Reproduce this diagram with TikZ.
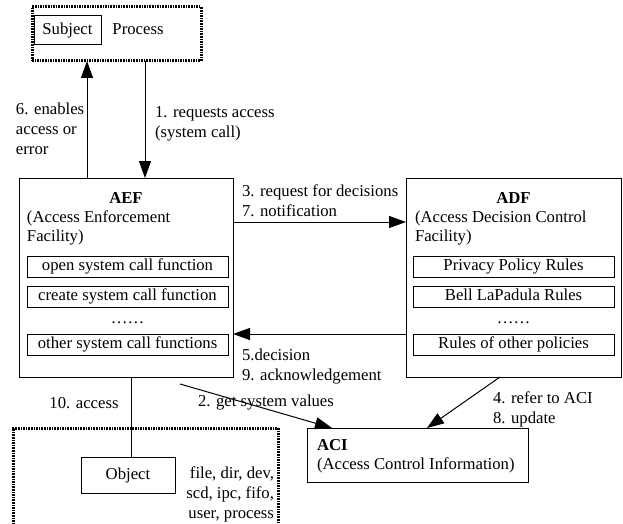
\documentclass[tikz,border=0pt]{standalone}
\usepackage{fontspec}
\setmainfont{Liberation Serif}
\usetikzlibrary{arrows.meta}
\begin{document}
\begin{tikzpicture}[x=1pt,y=-1pt,
  every node/.style={font=\fontsize{16.7}{20}\selectfont, inner sep=0pt, outer sep=0pt},
  box/.style={draw, line width=1pt, minimum width=#1, text height=11.5pt, text depth=3.5pt},
  dotbox/.style={draw, line width=3pt, dash pattern=on 1.6pt off 1pt},
  arr/.style={line width=1pt, -{Triangle[length=17pt,width=12pt]}},
  plain/.style={line width=1pt},
  lbl/.style={anchor=west, align=left}
]
\useasboundingbox (0,0) rectangle (623,524);
% Subject / Process
\node[dotbox, minimum width=169pt, minimum height=54pt] (proc) at (116.5,34) {};
\node[box=67pt, minimum height=29pt] (subj) at (67.5,30.5) {Subject};
\node[text height=11.5pt, text depth=3.5pt] (ptext) at (138,30.5) {Process};
% AEF
\node[box=214pt, minimum height=199pt] (aef) at (126,277.5) {};
\node[font=\fontsize{16.7}{20}\selectfont\bfseries] (aeft) at (126,198) {AEF};
\node[lbl] (aef1) at (27,218) {(Access Enforcement};
\node[lbl] (aef2) at (27,238) {Facility)};
\node[box=201pt, minimum height=21pt] (f1) at (127.5,266.5) {open system call function};
\node[box=201pt, minimum height=21pt] (f2) at (127.5,296.5) {create system call function};
\node[anchor=base] (fd) at (127.5,323) {……};
\node[box=201pt, minimum height=21pt] (f3) at (127.5,344.5) {other system call functions};
% ADF
\node[box=215pt, minimum height=199pt] (adf) at (513.5,277.5) {};
\node[font=\fontsize{16.7}{20}\selectfont\bfseries] (adft) at (513.5,198) {ADF};
\node[lbl] (adf1) at (415,218) {(Access Decision Control};
\node[lbl] (adf2) at (415,238) {Facility)};
\node[box=201pt, minimum height=21pt] (r1) at (513.5,266.5) {Privacy Policy Rules};
\node[box=201pt, minimum height=21pt] (r2) at (513.5,296.5) {Bell LaPadula Rules};
\node[anchor=base] (rd) at (513.5,323) {……};
\node[box=201pt, minimum height=21pt] (r3) at (513.5,344.5) {Rules of other policies};
% ACI
\node[box=221pt, minimum height=54pt] (aci) at (417.5,455) {};
\node[lbl, font=\fontsize{16.7}{20}\selectfont\bfseries] (acit) at (317,445) {ACI};
\node[lbl] (aci1) at (317,465) {(Access Control Information)};
% Object area
\draw[line width=3pt, dash pattern=on 1.6pt off 1pt] (13,540) -- (13,428) -- (278,428) -- (278,540);
\node[box=94pt, minimum height=36pt] (obj) at (128,475) {Object};
\node[anchor=east, align=right] (objt) at (274,494) {file, dir, dev,\\scd, ipc, fifo,\\user, process};
% connectors
\draw[arr] (proc.south -| 145,0) -- (aef.north -| 145,0);
\draw[arr] (aef.north -| 87,0) -- (proc.south -| 87,0);
\node[lbl] (l1) at (155,124) {1. requests access\\(system call)};
\node[lbl] (l6) at (16,129) {6. enables\\access or\\error};
\draw[arr] (aef.east |- 0,222) -- (adf.west |- 0,222);
\node[lbl] (l3) at (242,200.5) {3. request for decisions\\7. notification};
\draw[arr] (adf.west |- 0,334) -- (aef.east |- 0,334);
\node[lbl] (l5) at (242,366.5) {5.decision\\9. acknowledgement};
\coordinate (s2) at (180,384);
\draw[arr] (s2) -- (aci.north -| 332,0);
\node[lbl] (l2) at (198,403) {2. get system values};
\draw[arr] (adf.south -| 500,0) -- (aci.north -| 427,0);
\node[lbl] (l4) at (493,409) {4. refer to ACI\\8. update};
\draw[plain] (aef.south -| 131,0) -- (obj.north -| 131,0);
\node (l10) at (84,403) {10. access};
\end{tikzpicture}
\end{document}
